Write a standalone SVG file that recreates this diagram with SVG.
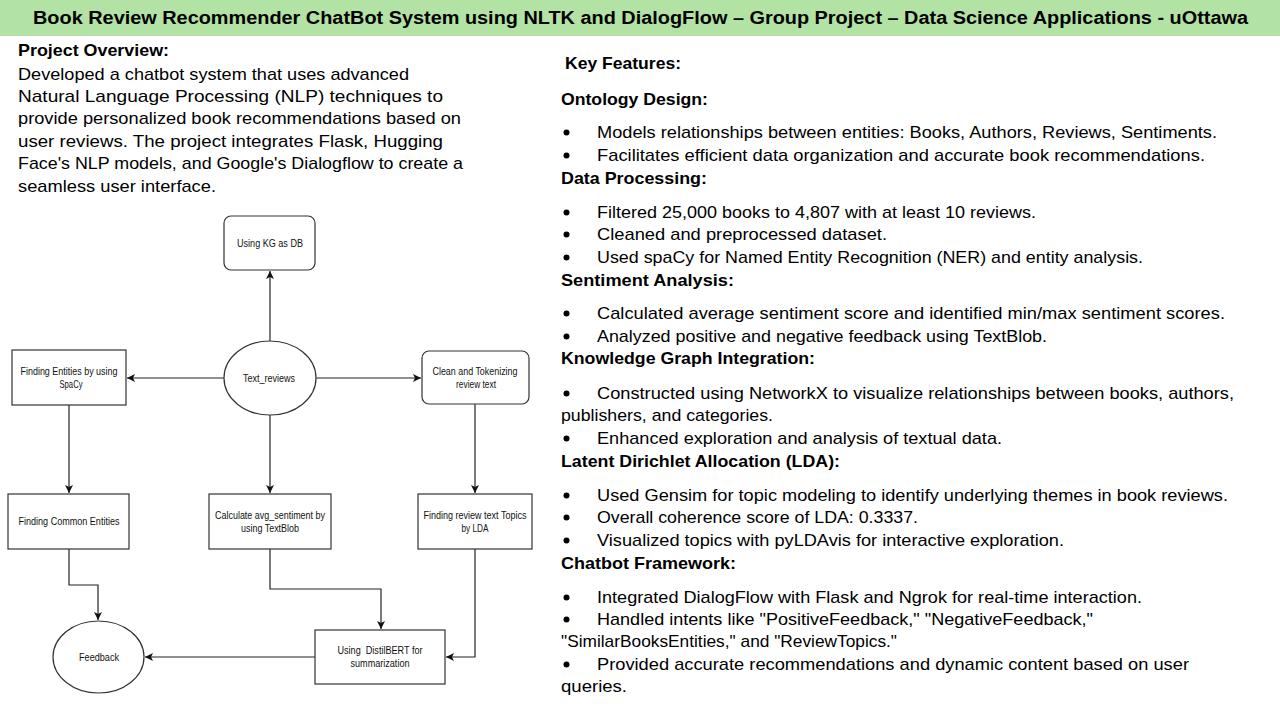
<svg xmlns="http://www.w3.org/2000/svg" width="1280" height="720" viewBox="0 0 1280 720">
<defs>
<marker id="arr" markerUnits="userSpaceOnUse" markerWidth="9" markerHeight="8" refX="8" refY="4" orient="auto">
<path d="M0,0 L8,4 L0,8 L2,4 z" fill="#111"/>
</marker>
<style>
.title{font-family:"Liberation Sans",Arial,sans-serif;font-size:17.5px;font-weight:bold;fill:#000}
.h{font-family:"Liberation Sans",Arial,sans-serif;font-size:17px;font-weight:bold;fill:#000}
.b{font-family:"Liberation Sans",Arial,sans-serif;font-size:17px;fill:#000}
.dot{fill:#000}
.n{fill:#fff;stroke:#333;stroke-width:1.2}
.lbl{font-family:"Liberation Sans",Arial,sans-serif;font-size:10.5px;fill:#111;text-anchor:middle}
.c{fill:none;stroke:#222;stroke-width:1.2;marker-end:url(#arr)}
</style>
</defs>
<rect width="1280" height="720" fill="#fff"/>
<g id="titlebar">
<rect x="0" y="0" width="1280" height="36" fill="#b3e3a4"/>
<text class="title" x="33" y="24" textLength="1215" lengthAdjust="spacingAndGlyphs">Book Review Recommender ChatBot System using NLTK and DialogFlow – Group Project – Data Science Applications - uOttawa</text>
</g>
<g id="overview">
<text class="h" x="18" y="56" textLength="151" lengthAdjust="spacingAndGlyphs">Project Overview:</text>
<text class="b" x="18" y="80" textLength="391" lengthAdjust="spacingAndGlyphs">Developed a chatbot system that uses advanced</text>
<text class="b" x="18" y="102" textLength="425" lengthAdjust="spacingAndGlyphs">Natural Language Processing (NLP) techniques to</text>
<text class="b" x="18" y="124" textLength="443" lengthAdjust="spacingAndGlyphs">provide personalized book recommendations based on</text>
<text class="b" x="18" y="147" textLength="425" lengthAdjust="spacingAndGlyphs">user reviews. The project integrates Flask, Hugging</text>
<text class="b" x="18" y="169" textLength="445" lengthAdjust="spacingAndGlyphs">Face's NLP models, and Google's Dialogflow to create a</text>
<text class="b" x="18" y="192" textLength="198" lengthAdjust="spacingAndGlyphs">seamless user interface.</text>
</g>
<g id="bullets">
<circle class="dot" cx="566.5" cy="132.5" r="3"/>
<circle class="dot" cx="566.5" cy="155.5" r="3"/>
<circle class="dot" cx="566.5" cy="212.5" r="3"/>
<circle class="dot" cx="566.5" cy="234.5" r="3"/>
<circle class="dot" cx="566.5" cy="257.5" r="3"/>
<circle class="dot" cx="566.5" cy="313.5" r="3"/>
<circle class="dot" cx="566.5" cy="336.5" r="3"/>
<circle class="dot" cx="566.5" cy="393.5" r="3"/>
<circle class="dot" cx="566.5" cy="438.5" r="3"/>
<circle class="dot" cx="566.5" cy="495.5" r="3"/>
<circle class="dot" cx="566.5" cy="517.5" r="3"/>
<circle class="dot" cx="566.5" cy="540.5" r="3"/>
<circle class="dot" cx="566.5" cy="597.5" r="3"/>
<circle class="dot" cx="566.5" cy="619.5" r="3"/>
<circle class="dot" cx="566.5" cy="664.5" r="3"/>
</g>
<g id="features">
<text class="h" x="565" y="69" textLength="116" lengthAdjust="spacingAndGlyphs">Key Features:</text>
<text class="h" x="561" y="105" textLength="147" lengthAdjust="spacingAndGlyphs">Ontology Design:</text>
<text class="b" x="597" y="138" textLength="620" lengthAdjust="spacingAndGlyphs">Models relationships between entities: Books, Authors, Reviews, Sentiments.</text>
<text class="b" x="597" y="161" textLength="608" lengthAdjust="spacingAndGlyphs">Facilitates efficient data organization and accurate book recommendations.</text>
<text class="h" x="561" y="184" textLength="146" lengthAdjust="spacingAndGlyphs">Data Processing:</text>
<text class="b" x="597" y="218" textLength="439" lengthAdjust="spacingAndGlyphs">Filtered 25,000 books to 4,807 with at least 10 reviews.</text>
<text class="b" x="597" y="240" textLength="290" lengthAdjust="spacingAndGlyphs">Cleaned and preprocessed dataset.</text>
<text class="b" x="597" y="263" textLength="546" lengthAdjust="spacingAndGlyphs">Used spaCy for Named Entity Recognition (NER) and entity analysis.</text>
<text class="h" x="561" y="286" textLength="173" lengthAdjust="spacingAndGlyphs">Sentiment Analysis:</text>
<text class="b" x="597" y="319" textLength="628" lengthAdjust="spacingAndGlyphs">Calculated average sentiment score and identified min/max sentiment scores.</text>
<text class="b" x="597" y="342" textLength="450" lengthAdjust="spacingAndGlyphs">Analyzed positive and negative feedback using TextBlob.</text>
<text class="h" x="561" y="364" textLength="254" lengthAdjust="spacingAndGlyphs">Knowledge Graph Integration:</text>
<text class="b" x="597" y="399" textLength="637" lengthAdjust="spacingAndGlyphs">Constructed using NetworkX to visualize relationships between books, authors,</text>
<text class="b" x="561" y="421" textLength="212" lengthAdjust="spacingAndGlyphs">publishers, and categories.</text>
<text class="b" x="597" y="444" textLength="405" lengthAdjust="spacingAndGlyphs">Enhanced exploration and analysis of textual data.</text>
<text class="h" x="561" y="467" textLength="279" lengthAdjust="spacingAndGlyphs">Latent Dirichlet Allocation (LDA):</text>
<text class="b" x="597" y="501" textLength="631" lengthAdjust="spacingAndGlyphs">Used Gensim for topic modeling to identify underlying themes in book reviews.</text>
<text class="b" x="597" y="523" textLength="321" lengthAdjust="spacingAndGlyphs">Overall coherence score of LDA: 0.3337.</text>
<text class="b" x="597" y="546" textLength="467" lengthAdjust="spacingAndGlyphs">Visualized topics with pyLDAvis for interactive exploration.</text>
<text class="h" x="561" y="569" textLength="175" lengthAdjust="spacingAndGlyphs">Chatbot Framework:</text>
<text class="b" x="597" y="603" textLength="545" lengthAdjust="spacingAndGlyphs">Integrated DialogFlow with Flask and Ngrok for real-time interaction.</text>
<text class="b" x="597" y="625" textLength="496" lengthAdjust="spacingAndGlyphs">Handled intents like "PositiveFeedback," "NegativeFeedback,"</text>
<text class="b" x="561" y="647" textLength="336" lengthAdjust="spacingAndGlyphs">"SimilarBooksEntities," and "ReviewTopics."</text>
<text class="b" x="597" y="670" textLength="592" lengthAdjust="spacingAndGlyphs">Provided accurate recommendations and dynamic content based on user</text>
<text class="b" x="561" y="692" textLength="66" lengthAdjust="spacingAndGlyphs">queries.</text>
</g>
<g id="connectors">
<path class="c" d="M270,341 L270,271"/>
<path class="c" d="M224,378 L127,378"/>
<path class="c" d="M316,378 L421,378"/>
<path class="c" d="M69,405 L69,493"/>
<path class="c" d="M270,415 L270,493"/>
<path class="c" d="M475,404 L475,493"/>
<path class="c" d="M69,549 L69,585 L98,585 L98,620"/>
<path class="c" d="M270,549 L270,589 L381,589 L381,629"/>
<path class="c" d="M475,549 L475,657 L446,657"/>
<path class="c" d="M315,657 L145,657"/>
</g>
<g id="n-kg">
<rect class="n" x="224" y="216" width="91" height="54" rx="7"/>
<text class="lbl" x="270" y="247" textLength="66" lengthAdjust="spacingAndGlyphs">Using KG as DB</text>
</g>
<g id="n-text-reviews">
<ellipse class="n" cx="270" cy="378" rx="46" ry="37"/>
<text class="lbl" x="269" y="382" textLength="52" lengthAdjust="spacingAndGlyphs">Text_reviews</text>
</g>
<g id="n-entities">
<rect class="n" x="12" y="350" width="114" height="55"/>
<text class="lbl" x="69" y="375" textLength="97" lengthAdjust="spacingAndGlyphs">Finding Entities by using</text>
<text class="lbl" x="71" y="388" textLength="23" lengthAdjust="spacingAndGlyphs">SpaCy</text>
</g>
<g id="n-clean">
<rect class="n" x="422" y="351" width="107" height="53" rx="7"/>
<text class="lbl" x="475" y="375" textLength="85" lengthAdjust="spacingAndGlyphs">Clean and Tokenizing</text>
<text class="lbl" x="476" y="388" textLength="40" lengthAdjust="spacingAndGlyphs">review text</text>
</g>
<g id="n-common">
<rect class="n" x="8" y="494" width="121" height="55"/>
<text class="lbl" x="69" y="525" textLength="101" lengthAdjust="spacingAndGlyphs">Finding Common Entities</text>
</g>
<g id="n-sentiment">
<rect class="n" x="209" y="494" width="122" height="55"/>
<text class="lbl" x="270" y="519" textLength="110" lengthAdjust="spacingAndGlyphs">Calculate avg_sentiment by</text>
<text class="lbl" x="270" y="532" textLength="58" lengthAdjust="spacingAndGlyphs">using TextBlob</text>
</g>
<g id="n-lda">
<rect class="n" x="418" y="494" width="114" height="55"/>
<text class="lbl" x="475" y="519" textLength="103" lengthAdjust="spacingAndGlyphs">Finding review text Topics</text>
<text class="lbl" x="475" y="532" textLength="27" lengthAdjust="spacingAndGlyphs">by LDA</text>
</g>
<g id="n-distilbert">
<rect class="n" x="315" y="630" width="130" height="54"/>
<text class="lbl" x="380" y="654" textLength="85" lengthAdjust="spacingAndGlyphs" xml:space="preserve">Using  DistilBERT for</text>
<text class="lbl" x="380" y="667" textLength="59" lengthAdjust="spacingAndGlyphs">summarization</text>
</g>
<g id="n-feedback">
<ellipse class="n" cx="98.5" cy="657" rx="45.5" ry="36"/>
<text class="lbl" x="99" y="661" textLength="40" lengthAdjust="spacingAndGlyphs">Feedback</text>
</g>
</svg>
